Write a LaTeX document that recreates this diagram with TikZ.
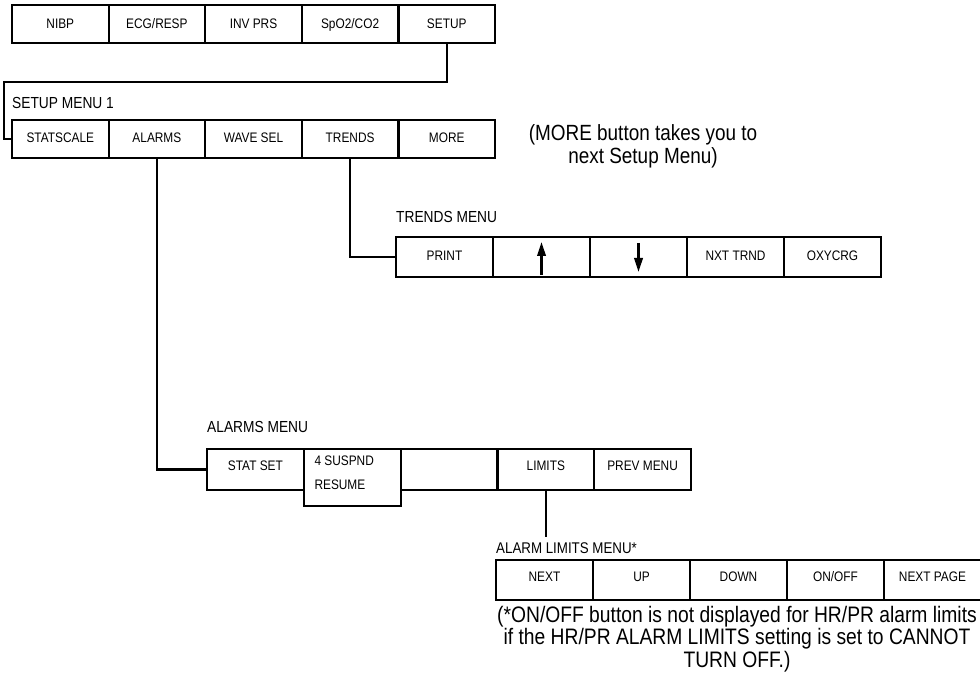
\documentclass[tikz,border=0pt]{standalone}
\usepackage{fontspec}
\setmainfont{Liberation Sans}[FakeStretch=0.86]
\usetikzlibrary{arrows.meta}
\begin{document}
\begin{tikzpicture}[x=1pt,y=-1pt,
  btn/.style={draw, line width=2.2pt, inner sep=0pt, outer sep=0pt, anchor=north west,
    font=\fontsize{13.8}{16}\selectfont, text height=9.9pt, text depth=#1},
  btn/.default=0pt,
  conn/.style={line width=2.2pt},
  arrowln/.style={line width=2.2pt, -{Triangle[length=14pt,width=8.5pt]}},
  menulabel/.style={anchor=west, inner sep=0pt, font=\fontsize{16}{18}\selectfont,
    text height=11.5pt, text depth=0pt},
  note/.style={inner sep=0pt, font=\fontsize{22}{22.3}\selectfont,
    text height=15.75pt, text depth=0pt}
]
\useasboundingbox (0,0) rectangle (980,687);
\clip (0,0) rectangle (980,687);
\fill[white] (0,0) rectangle (980,687);

% main menu
\begin{scope}[every node/.append style={btn, minimum width=96.6pt, minimum height=38pt}]
\node (nibp)  at (12,5)    {NIBP};
\node (ecg)   at (108.6,5) {ECG/RESP};
\node (inv)   at (205.2,5) {INV PRS};
\node (spo2)  at (301.8,5) {SpO2/CO2};
\node (setup) at (398.4,5) {SETUP};
\end{scope}

% setup menu 1
\node[menulabel] (setuplbl) at (12,103) {SETUP MENU 1};
\begin{scope}[every node/.append style={btn=2pt, minimum width=96.6pt, minimum height=38pt}]
\node (statscale) at (12,120)    {STATSCALE};
\node (alarms)    at (108.6,120) {ALARMS};
\node (wavesel)   at (205.2,120) {WAVE SEL};
\node (trends)    at (301.8,120) {TRENDS};
\node (more)      at (398.4,120) {MORE};
\end{scope}

\node[note, anchor=center] (morenote) at (643,133)
  {\begin{tabular}[t]{@{}c@{}}(MORE button takes you to\\ next Setup Menu)\end{tabular}};

% trends menu
\node[menulabel] (trendslbl) at (396,217) {TRENDS MENU};
\begin{scope}[every node/.append style={btn=2pt, minimum width=97pt, minimum height=40pt}]
\node (print)  at (396,237) {PRINT};
\node (upbox)  at (493,237) {};
\node (dnbox)  at (590,237) {};
\node (nxt)    at (687,237) {NXT TRND};
\node (oxy)    at (784,237) {OXYCRG};
\end{scope}

% alarms menu
\node[menulabel] (alarmslbl) at (207,427) {ALARMS MENU};
\begin{scope}[every node/.append style={btn=8pt, minimum width=96.8pt, minimum height=41pt}]
\node (statset) at (207,449)   {STAT SET};
\node (blank)   at (400.6,449) {};
\node (limits)  at (497.4,449) {LIMITS};
\node (prev)    at (594.2,449) {PREV MENU};
\node[minimum height=57pt, text depth=33pt, fill=white] (suspnd) at (303.8,449)
  {\fontsize{13.8}{24}\selectfont\begin{tabular}[t]{@{}l@{\hspace{16pt}}}4 SUSPND\\ RESUME\end{tabular}};
\end{scope}

% alarm limits menu
\node[menulabel, font=\fontsize{15.5}{18}\selectfont, text height=11.1pt] (limlbl) at (496,548) {ALARM LIMITS MENU*};
\begin{scope}[every node/.append style={btn=6pt, minimum width=97pt, minimum height=40pt}]
\node (next)  at (496,560) {NEXT};
\node (upl)   at (593,560) {UP};
\node (down)  at (690,560) {DOWN};
\node (onoff) at (787,560) {ON/OFF};
\node (npage) at (884,560) {NEXT PAGE};
\end{scope}

\node[note, anchor=center, font=\fontsize{22.4}{22.5}\selectfont, text height=16pt] (footnote) at (737,614)
  {\begin{tabular}[t]{@{}c@{}}(*ON/OFF button is not displayed for HR/PR alarm limits\\
   if the HR/PR ALARM LIMITS setting is set to CANNOT\\ TURN OFF.)\end{tabular}};

% connectors
\coordinate (jA) at (4,82);
\draw[conn] (setup.south) |- (jA) |- (statscale.west);
\draw[conn] (trends.south) |- (print.west);
\draw[conn] (alarms.south) |- (statset.west);
\path (limits.south) ++(0,47) coordinate (limend);
\draw[conn] (limits.south) -- (limend);

% arrows in trends menu
\path (upbox.south) ++(0,-2) coordinate (upa) ++(0,-33) coordinate (upb);
\draw[arrowln] (upa) -- (upb);
\path (dnbox.north) ++(0,6) coordinate (dna) ++(0,29) coordinate (dnb);
\draw[arrowln] (dna) -- (dnb);
\end{tikzpicture}
\end{document}
